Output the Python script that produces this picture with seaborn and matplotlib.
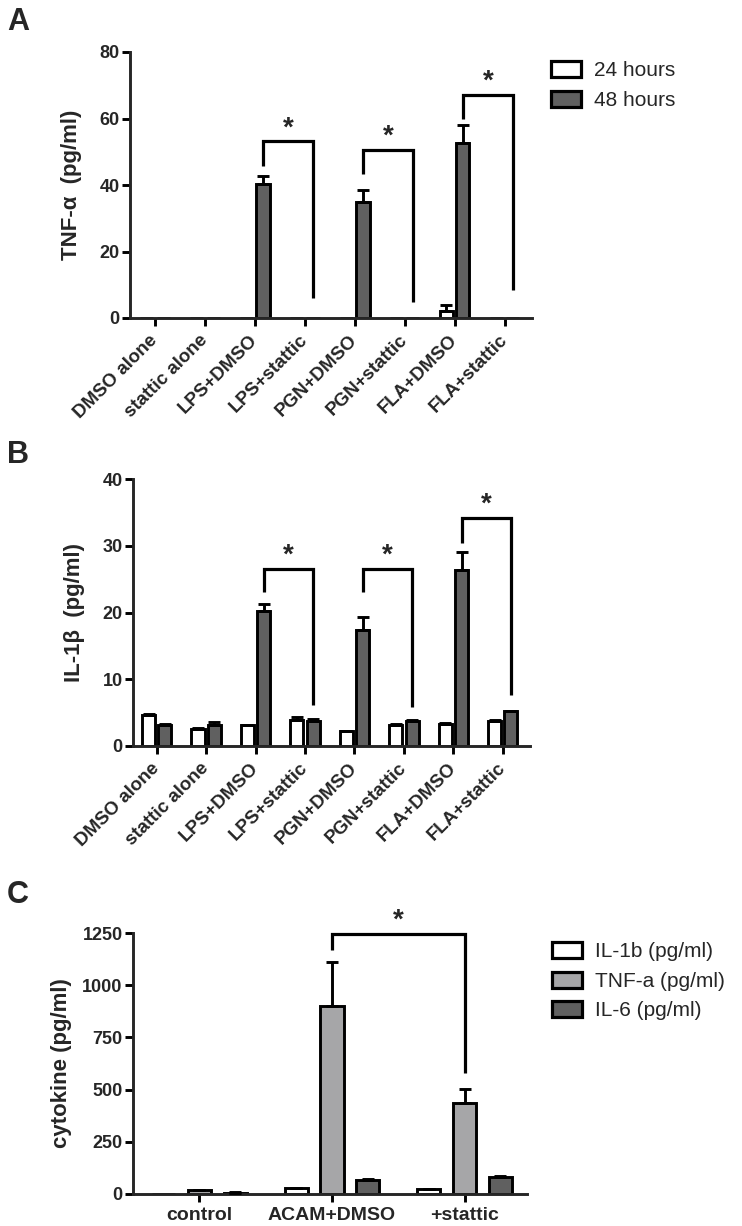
import numpy as np
import pandas as pd
import matplotlib
matplotlib.use("Agg")
import matplotlib.pyplot as plt
import seaborn as sns
from matplotlib.patches import Patch
from matplotlib.container import BarContainer

# ---------------- data ----------------
categories_ab = ["DMSO alone", "stattic alone", "LPS+DMSO", "LPS+stattic",
                 "PGN+DMSO", "PGN+stattic", "FLA+DMSO", "FLA+stattic"]
series_ab = ["24 hours", "48 hours"]

tnf_24h = [0, 0, 0, 0, 0, 0, 2.0, 0]
tnf_24h_err = [0, 0, 0, 0, 0, 0, 2.0, 0]
tnf_48h = [0, 0, 40.3, 0, 34.8, 0, 52.6, 0]
tnf_48h_err = [0, 0, 2.3, 0, 3.8, 0, 5.3, 0]

il1b_24h = [4.6, 2.6, 3.1, 3.9, 2.2, 3.1, 3.3, 3.7]
il1b_24h_err = [0.15, 0.1, 0.1, 0.5, 0.1, 0.15, 0.1, 0.15]
il1b_48h = [3.2, 3.2, 20.2, 3.8, 17.4, 3.7, 26.3, 5.2]
il1b_48h_err = [0.15, 0.4, 1.1, 0.2, 1.9, 0.2, 2.7, 0.1]

# brackets: (category from, category to, top, left end, right end)
tnf_brackets = [(2, 3, 53.1, 45.6, 6.0), (4, 5, 50.6, 43.4, 4.8), (6, 7, 67.2, 60.0, 8.5)]
il1b_brackets = [(2, 3, 26.5, 23.0, 6.1), (4, 5, 26.5, 23.0, 5.9), (6, 7, 34.2, 30.4, 7.6)]

categories_c = ["control", "ACAM+DMSO", "+stattic"]
series_c = ["IL-1b (pg/ml)", "TNF-a (pg/ml)", "IL-6 (pg/ml)"]
c_il1b = [0, 27, 22]
c_il1b_err = [0, 3, 2]
c_tnf = [18, 900, 436]
c_tnf_err = [3, 210, 66]
c_il6 = [7, 68, 81]
c_il6_err = [1, 3, 3]
c_bracket = (1, 2, 1245, 1169, 579)

# ---------------- style ----------------
sns.set_style("ticks")
plt.rcParams['font.family'] = ['Liberation Sans', 'DejaVu Sans']

WHITE = "#ffffff"
DARK = "#606060"
LIGHT = "#a6a6a8"

fig = plt.figure(figsize=(7.42, 12.26), dpi=100)
W, H = 742.0, 1226.0


def add_ax(left, right, top, bottom):
    return fig.add_axes([left / W, 1 - bottom / H, (right - left) / W, (bottom - top) / H])


axA = add_ax(130, 532, 52, 318)
axB = add_ax(133, 530, 479, 746)
axC = add_ax(133, 527, 933, 1194)


def draw_bars(ax, cats, series, vals, errs, colors, width, gap):
    rows = []
    for s, v in zip(series, vals):
        for c, val in zip(cats, v):
            rows.append({"group": c, "series": s, "value": val})
    df = pd.DataFrame(rows)
    sns.barplot(data=df, x="group", y="value", hue="series", order=cats,
                hue_order=series, palette=colors, width=width, gap=gap,
                errorbar=None, edgecolor="black", linewidth=2.1, ax=ax,
                legend=False, zorder=2)
    centers = {}
    bar_conts = [c for c in ax.containers if isinstance(c, BarContainer)]
    for hi, cont in enumerate(bar_conts):
        xs, tops, es = [], [], []
        for p in cont.patches:
            cx = p.get_x() + p.get_width() / 2
            ci = int(round(cx))
            centers[(ci, hi)] = cx
            e = errs[hi][ci]
            if e > 0:
                xs.append(cx)
                tops.append(p.get_height())
                es.append(e)
        if xs:
            ax.errorbar(xs, tops, yerr=[np.zeros(len(es)), es], fmt="none",
                        ecolor="black", elinewidth=2.1, capsize=4.5,
                        capthick=2.1, zorder=3)
    return centers


def bracket(ax, x1, x2, top, y1, y2, fs=20):
    ax.plot([x1, x1, x2, x2], [y1, top, top, y2], color="black", lw=2.3,
            solid_joinstyle="miter", solid_capstyle="butt", clip_on=False, zorder=4)
    ax.text((x1 + x2) / 2, top, "*", ha="center", va="bottom", fontsize=fs,
            fontweight="bold", clip_on=False)


def style_axis(ax):
    sns.despine(ax=ax)
    for s in ["left", "bottom"]:
        ax.spines[s].set_linewidth(2.1)
    ax.tick_params(axis="both", length=6, width=2.1, labelsize=13, color="black")
    ax.tick_params(axis="y", pad=1.5)
    for lab in ax.get_yticklabels():
        lab.set_fontweight("bold")
    ax.set_xlabel("")


# ---------------- Panel A ----------------
cA = draw_bars(axA, categories_ab, series_ab, [tnf_24h, tnf_48h],
               [tnf_24h_err, tnf_48h_err], [WHITE, DARK], 0.66, 0.2)
axA.set_ylim(0, 80)
axA.set_yticks([0, 20, 40, 60, 80])
axA.set_xlim(-0.5, 7.55)
style_axis(axA)
axA.set_xticks(range(len(categories_ab)))
axA.set_xticklabels(categories_ab, rotation=45, ha="right", va="center",
                    rotation_mode="anchor", fontsize=13.5, fontweight="bold")
axA.tick_params(axis="x", pad=8)
axA.set_ylabel("TNF-α  (pg/ml)", fontsize=16, fontweight="bold")
axA.yaxis.set_label_coords(-0.12, 0.5)
for (a, b, t, y1, y2) in tnf_brackets:
    bracket(axA, cA[(a, 1)], cA[(b, 1)], t, y1, y2)

# ---------------- Panel B ----------------
cB = draw_bars(axB, categories_ab, series_ab, [il1b_24h, il1b_48h],
               [il1b_24h_err, il1b_48h_err], [WHITE, DARK], 0.66, 0.2)
axB.set_ylim(0, 40)
axB.set_yticks([0, 10, 20, 30, 40])
axB.set_xlim(-0.48, 7.55)
style_axis(axB)
axB.set_xticks(range(len(categories_ab)))
axB.set_xticklabels(categories_ab, rotation=45, ha="right", va="center",
                    rotation_mode="anchor", fontsize=13.5, fontweight="bold")
axB.tick_params(axis="x", pad=8)
axB.set_ylabel("IL-1β  (pg/ml)", fontsize=16, fontweight="bold")
axB.yaxis.set_label_coords(-0.12, 0.5)
for (a, b, t, y1, y2) in il1b_brackets:
    bracket(axB, cB[(a, 1)], cB[(b, 1)], t, y1, y2)

# ---------------- Panel C ----------------
cC = draw_bars(axC, categories_c, series_c, [c_il1b, c_tnf, c_il6],
               [c_il1b_err, c_tnf_err, c_il6_err], [WHITE, LIGHT, DARK], 0.81, 0.35)
axC.set_ylim(0, 1250)
axC.set_yticks([0, 250, 500, 750, 1000, 1250])
axC.set_xlim(-0.5, 2.47)
style_axis(axC)
axC.set_xticks(range(len(categories_c)))
axC.set_xticklabels(categories_c, fontsize=14, fontweight="bold")
axC.tick_params(axis="x", pad=3)
axC.set_ylabel("cytokine (pg/ml)", fontsize=16, fontweight="bold")
axC.yaxis.set_label_coords(-0.155, 0.5)
a, b, t, y1, y2 = c_bracket
bracket(axC, cC[(a, 1)], cC[(b, 1)], t, y1, y2)

# ---------------- legends ----------------
def legend(labels, colors, x, y):
    handles = [Patch(facecolor=c, edgecolor="black", linewidth=2.3) for c in colors]
    fig.legend(handles, labels, loc="upper left", bbox_to_anchor=(x / W, 1 - y / H),
               frameon=False, fontsize=15, handlelength=1.45, handleheight=0.8,
               handletextpad=0.6, labelspacing=0.5, borderpad=0, borderaxespad=0)

legend(series_ab, [WHITE, DARK], 551, 61)
legend(series_c, [WHITE, LIGHT, DARK], 552, 942)

# ---------------- panel letters ----------------
for letter, yb in [("A", 30), ("B", 463), ("C", 903)]:
    fig.text(7 / W, 1 - yb / H, letter, fontsize=22, fontweight="bold",
             ha="left", va="baseline")

fig.savefig("out.png", dpi=100)
